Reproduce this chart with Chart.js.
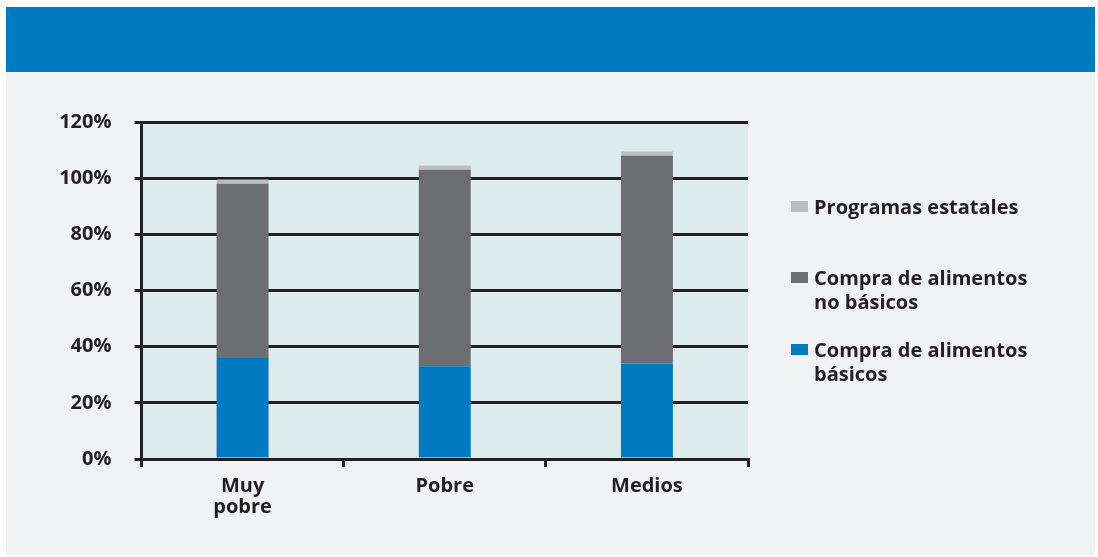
<!DOCTYPE html>
<html>
<head>
<meta charset="utf-8">
<script src="https://cdn.jsdelivr.net/npm/chart.js@4.4.1/dist/chart.umd.min.js"></script>
<style>
  html, body { margin: 0; padding: 0; background: #ffffff; }
  body { width: 1098px; height: 557px; position: relative; overflow: hidden; }
  #panel { position: absolute; left: 6px; top: 7px; width: 1089px; height: 549px; background: #f1f2f4; }
  #header { position: absolute; left: 6px; top: 7px; width: 1089px; height: 65px; background: #007bc2; }
  #chartCanvas { position: absolute; left: 0; top: 0; }
</style>
</head>
<body>
<div id="panel"></div>
<div id="header"></div>
<canvas id="chartCanvas" width="1098" height="557"></canvas>
<script>
// categories and values (percent)
const categories = [['Muy', 'pobre'], 'Pobre', 'Medios'];
const basicos = [36, 33, 34];
const noBasicos = [62, 70, 74];
const programas = [1.5, 1.5, 1.5];
const yTicks = [0, 20, 40, 60, 80, 100, 120];

const labelBasicos = ['Compra de alimentos', 'básicos'];
const labelNoBasicos = ['Compra de alimentos', 'no básicos'];
const labelProgramas = ['Programas estatales'];

const ink = '#231f20';
const fontFamily = '"Open Sans", "Liberation Sans", sans-serif';

// light plot background
const plotBackground = {
    id: 'plotBackground',
    beforeDraw(chart) {
        const { ctx, chartArea } = chart;
        ctx.save();
        ctx.fillStyle = '#ddebec';
        ctx.fillRect(chartArea.left, chartArea.top, chartArea.right - chartArea.left, chartArea.bottom - chartArea.top);
        ctx.restore();
    }
};

// legend on the right, top item first
const sideLegend = {
    id: 'sideLegend',
    afterDraw(chart) {
        const { ctx, chartArea } = chart;
        const x = chartArea.right + 43;
        const tops = [201, 272, 344];
        const order = [2, 1, 0];
        ctx.save();
        ctx.font = 'bold 20px ' + fontFamily;
        ctx.textBaseline = 'middle';
        ctx.textAlign = 'left';
        order.forEach((di, i) => {
            const ds = chart.data.datasets[di];
            ctx.fillStyle = ds.backgroundColor;
            ctx.fillRect(x, tops[i], 17, 11);
            ctx.fillStyle = ink;
            ds.label.forEach((line, j) => {
                ctx.fillText(line, x + 23, tops[i] + 7 + j * 24);
            });
        });
        ctx.restore();
    }
};

let data = {
    labels: categories,
    datasets: [
        { label: labelBasicos, data: basicos, backgroundColor: '#007bc2' },
        { label: labelNoBasicos, data: noBasicos, backgroundColor: '#6d6e71' },
        { label: labelProgramas, data: programas, backgroundColor: '#bcbec0' }
    ]
};

let options = {
    responsive: false,
    devicePixelRatio: 1,
    animation: false,
    layout: { padding: { left: 0, top: 122, right: 350, bottom: 38 } },
    datasets: {
        bar: { categoryPercentage: 1, barPercentage: 0.257, borderWidth: 0 }
    },
    plugins: {
        legend: { display: false },
        tooltip: { enabled: false },
        title: { display: false }
    },
    scales: {
        x: {
            stacked: true,
            offset: true,
            afterFit: (s) => { s.height = 60; },
            grid: { offset: true, drawOnChartArea: false, drawTicks: true, tickLength: 8, color: ink, lineWidth: 3 },
            border: { display: true, color: ink, width: 3 },
            ticks: { color: ink, padding: 9, font: { family: fontFamily, size: 20, weight: 'bold', lineHeight: 1.05 } }
        },
        y: {
            stacked: true,
            min: 0,
            max: 120,
            afterFit: (s) => { s.width = 141.5; },
            afterBuildTicks: (s) => { s.ticks = yTicks.map(v => ({ value: v })); },
            grid: { color: ink, lineWidth: 3, drawTicks: true, tickLength: 7 },
            border: { display: true, color: ink, width: 3 },
            ticks: {
                color: ink,
                padding: 23,
                font: { family: fontFamily, size: 20, weight: 'bold' },
                callback: (v) => v + '%'
            }
        }
    }
};

new Chart('chartCanvas', {
    type: 'bar',
    data: data,
    options: options,
    plugins: [plotBackground, sideLegend]
});
</script>
</body>
</html>
